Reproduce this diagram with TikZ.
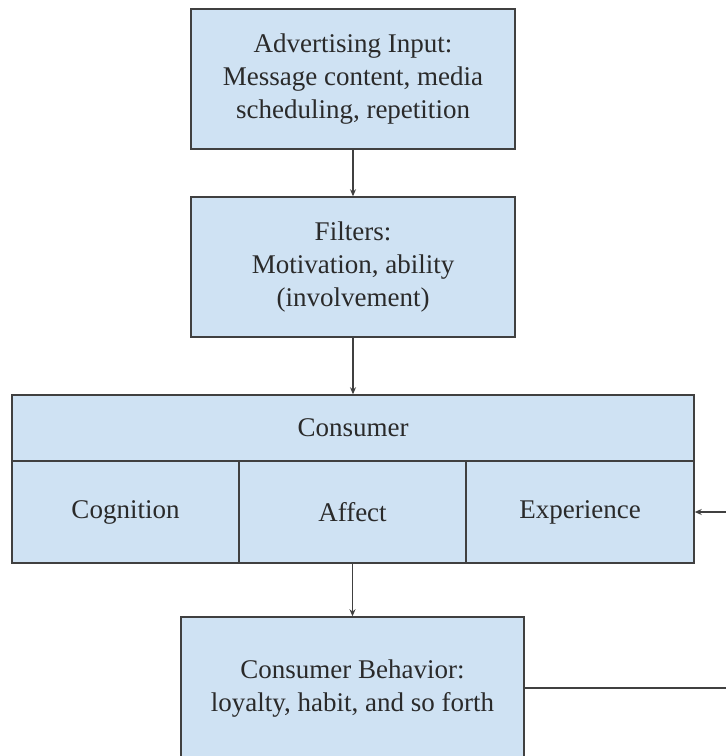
\documentclass[tikz,border=0pt]{standalone}
\usepackage{fontspec}
\setmainfont{Liberation Serif}
\usetikzlibrary{arrows.meta}
\definecolor{boxfill}{HTML}{CFE2F3}
\definecolor{boxline}{HTML}{404040}
\definecolor{boxtext}{HTML}{2A2A2A}
\begin{document}
\begin{tikzpicture}[x=1pt,y=-1pt,
  box/.style={draw=boxline,fill=boxfill,line width=1.5pt,align=center,
    inner sep=0pt,font=\fontsize{27}{33}\selectfont,text=boxtext},
  link/.style={draw=boxline,line width=1.5pt,-{Stealth[length=7pt,width=6pt]}}]
\useasboundingbox (0,0) rectangle (726,756);
\clip (0,0) rectangle (726,756);
% stages
\node[box,minimum width=324pt,minimum height=140pt] (input) at (353,79)
  {Advertising Input:\\Message content, media\\scheduling, repetition};
\node[box,minimum width=324pt,minimum height=140pt] (filters) at (353,267)
  {Filters:\\Motivation, ability\\(involvement)};
% consumer block
\node[box,minimum width=682pt,minimum height=66pt] (consumer) at (353,428) {Consumer};
\node[box,minimum width=227pt,minimum height=102pt] (cognition) at (125.5,512) {Cognition};
\node[box,minimum width=227pt,minimum height=102pt] (affect) at (352.5,512) {Affect};
\node[box,minimum width=228pt,minimum height=102pt] (experience) at (580,512) {Experience};
\node[box,minimum width=343pt,minimum height=144pt] (behavior) at (352.5,689)
  {Consumer Behavior:\\loyalty, habit, and so forth};
% connectors
\coordinate (loopB) at (745,688);
\coordinate (loopT) at (745,512);
\draw[link] (input) -- (filters);
\draw[link] (filters) -- (consumer);
\draw[link] (affect) -- (behavior);
\draw[link] (behavior.east |- loopB) -- (loopB) -- (loopT) -- (experience.east);
\end{tikzpicture}
\end{document}
